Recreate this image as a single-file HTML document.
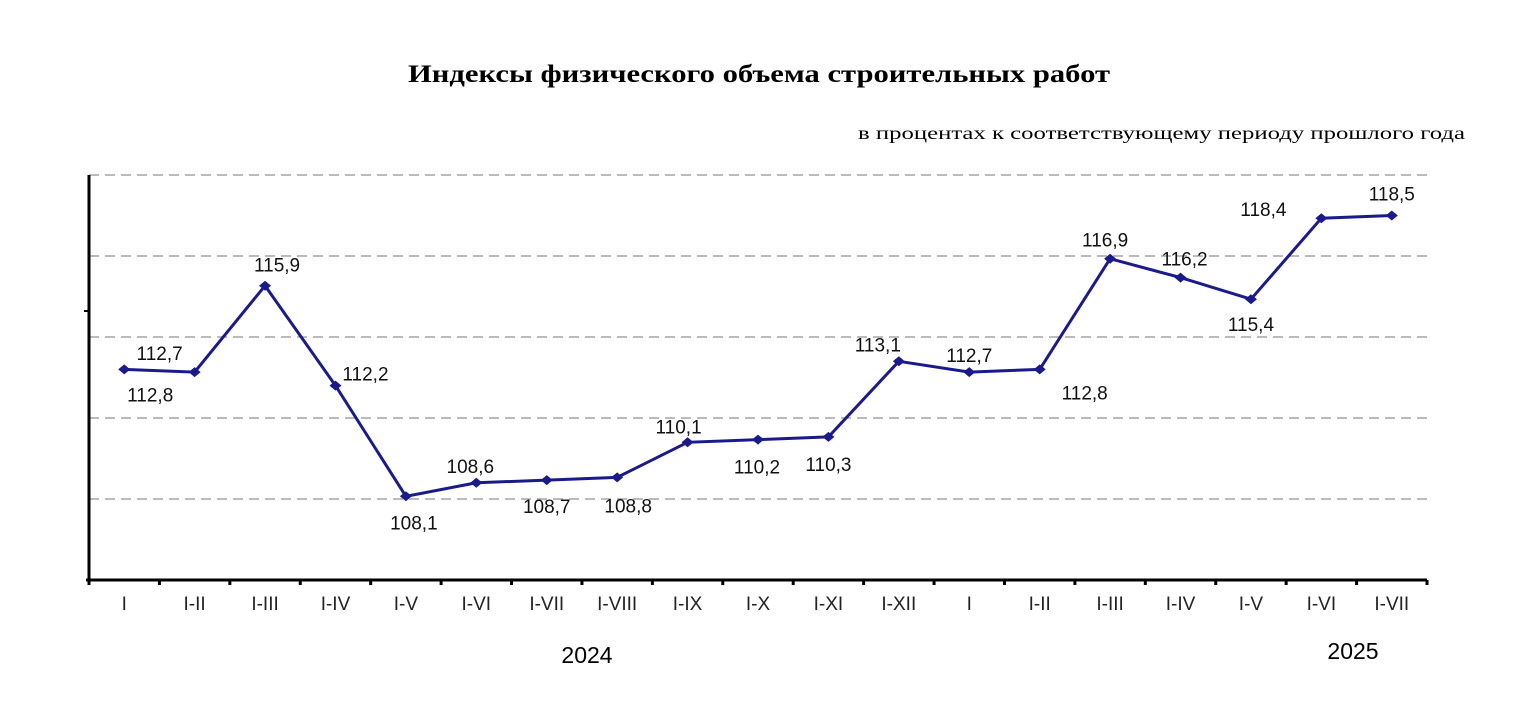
<!DOCTYPE html>
<html><head><meta charset="utf-8"><style>
body{margin:0;background:#fff;}
svg text{font-family:"Liberation Sans",Arial,sans-serif;}
</style></head><body>
<svg id="chart" width="1515" height="699" viewBox="0 0 1515 699">
<text x="408" y="82" textLength="702" lengthAdjust="spacingAndGlyphs" font-weight="bold" font-size="25" style="font-family:'Liberation Serif',serif">Индексы физического объема строительных  работ</text>
<text x="858" y="139" textLength="607" lengthAdjust="spacingAndGlyphs" font-size="18" style="font-family:'Liberation Serif',serif">в процентах к соответствующему периоду прошлого года</text>
<g id="grid"></g><g id="axes"></g><g id="series"></g><g id="labels"></g>
<text x="587" y="663" text-anchor="middle" font-size="23">2024</text>
<text x="1353" y="659" text-anchor="middle" font-size="23">2025</text>
</svg>
<script>
const categories=["I","I-II","I-III","I-IV","I-V","I-VI","I-VII","I-VIII","I-IX","I-X","I-XI","I-XII","I","I-II","I-III","I-IV","I-V","I-VI","I-VII"];
const values=[112.8,112.7,115.9,112.2,108.1,108.6,108.7,108.8,110.1,110.2,110.3,113.1,112.7,112.8,116.9,116.2,115.4,118.4,118.5];
const gridValues=[108,111,114,117,120];
const yMin=105,yMax=120;
// label offsets (styling)
const ldx=[26,-35,12,30,8,-6,0,11,-9,-1,0,-21,0,45,-5,4,0,-58,0];
const ldy=[32,-12,-14,-5,33,-10,33,35,-9,34,34,-10,-10,30,-12,-12,32,-2,-15];
const ns="http://www.w3.org/2000/svg";
const x0=89,plotW=1338,yTop=175,yBot=580;
const step=plotW/categories.length;
const X=i=>x0+step*(i+0.5);
const Y=v=>yBot-(v-yMin)/(yMax-yMin)*(yBot-yTop);
function mk(tag,attrs,parent){const e=document.createElementNS(ns,tag);for(const k in attrs)e.setAttribute(k,attrs[k]);document.getElementById(parent).appendChild(e);return e;}
gridValues.forEach(v=>{
  const l=mk('line',{x1:x0,x2:1427,y1:Y(v),y2:Y(v),stroke:'#bbb','stroke-width':2,'stroke-dasharray':'10 6'},'grid');
  
  
});
let a=mk('line',{x1:x0,x2:x0,y1:yTop,y2:yBot+2,stroke:'#000','stroke-width':3},'axes');


let b=mk('line',{x1:x0-3,x2:1427,y1:yBot,y2:yBot,stroke:'#000','stroke-width':3},'axes');


mk('line',{x1:x0-5,x2:x0,y1:311,y2:311,stroke:'#000','stroke-width':2},'axes');
for(let i=0;i<=categories.length;i++){
  const t=mk('line',{x1:x0+step*i,x2:x0+step*i,y1:yBot,y2:yBot+5,stroke:'#000','stroke-width':3},'axes');
  
  
}
categories.forEach((c,i)=>{
  const t=mk('text',{x:X(i),y:610,'text-anchor':'middle','font-size':19,fill:'#222'},'axes');
  t.textContent=c;
  
  
});
const pts=values.map((v,i)=>X(i)+','+Y(v)).join(' ');
const pl=mk('polyline',{points:pts,fill:'none',stroke:'#1a1a8c','stroke-width':3},'series');


values.forEach((v,i)=>{
  const x=X(i),y=Y(v);
  const m=mk('polygon',{points:`${x-6},${y} ${x},${y-5} ${x+6},${y} ${x},${y+5}`,fill:'#1a1a8c'},'series');
  
  
  const t=mk('text',{x:x+ldx[i],y:y+ldy[i],'text-anchor':'middle','font-size':19,fill:'#111'},'labels');
  t.textContent=v.toFixed(1).replace('.',',');
  
  
});
</script>
</body></html>
